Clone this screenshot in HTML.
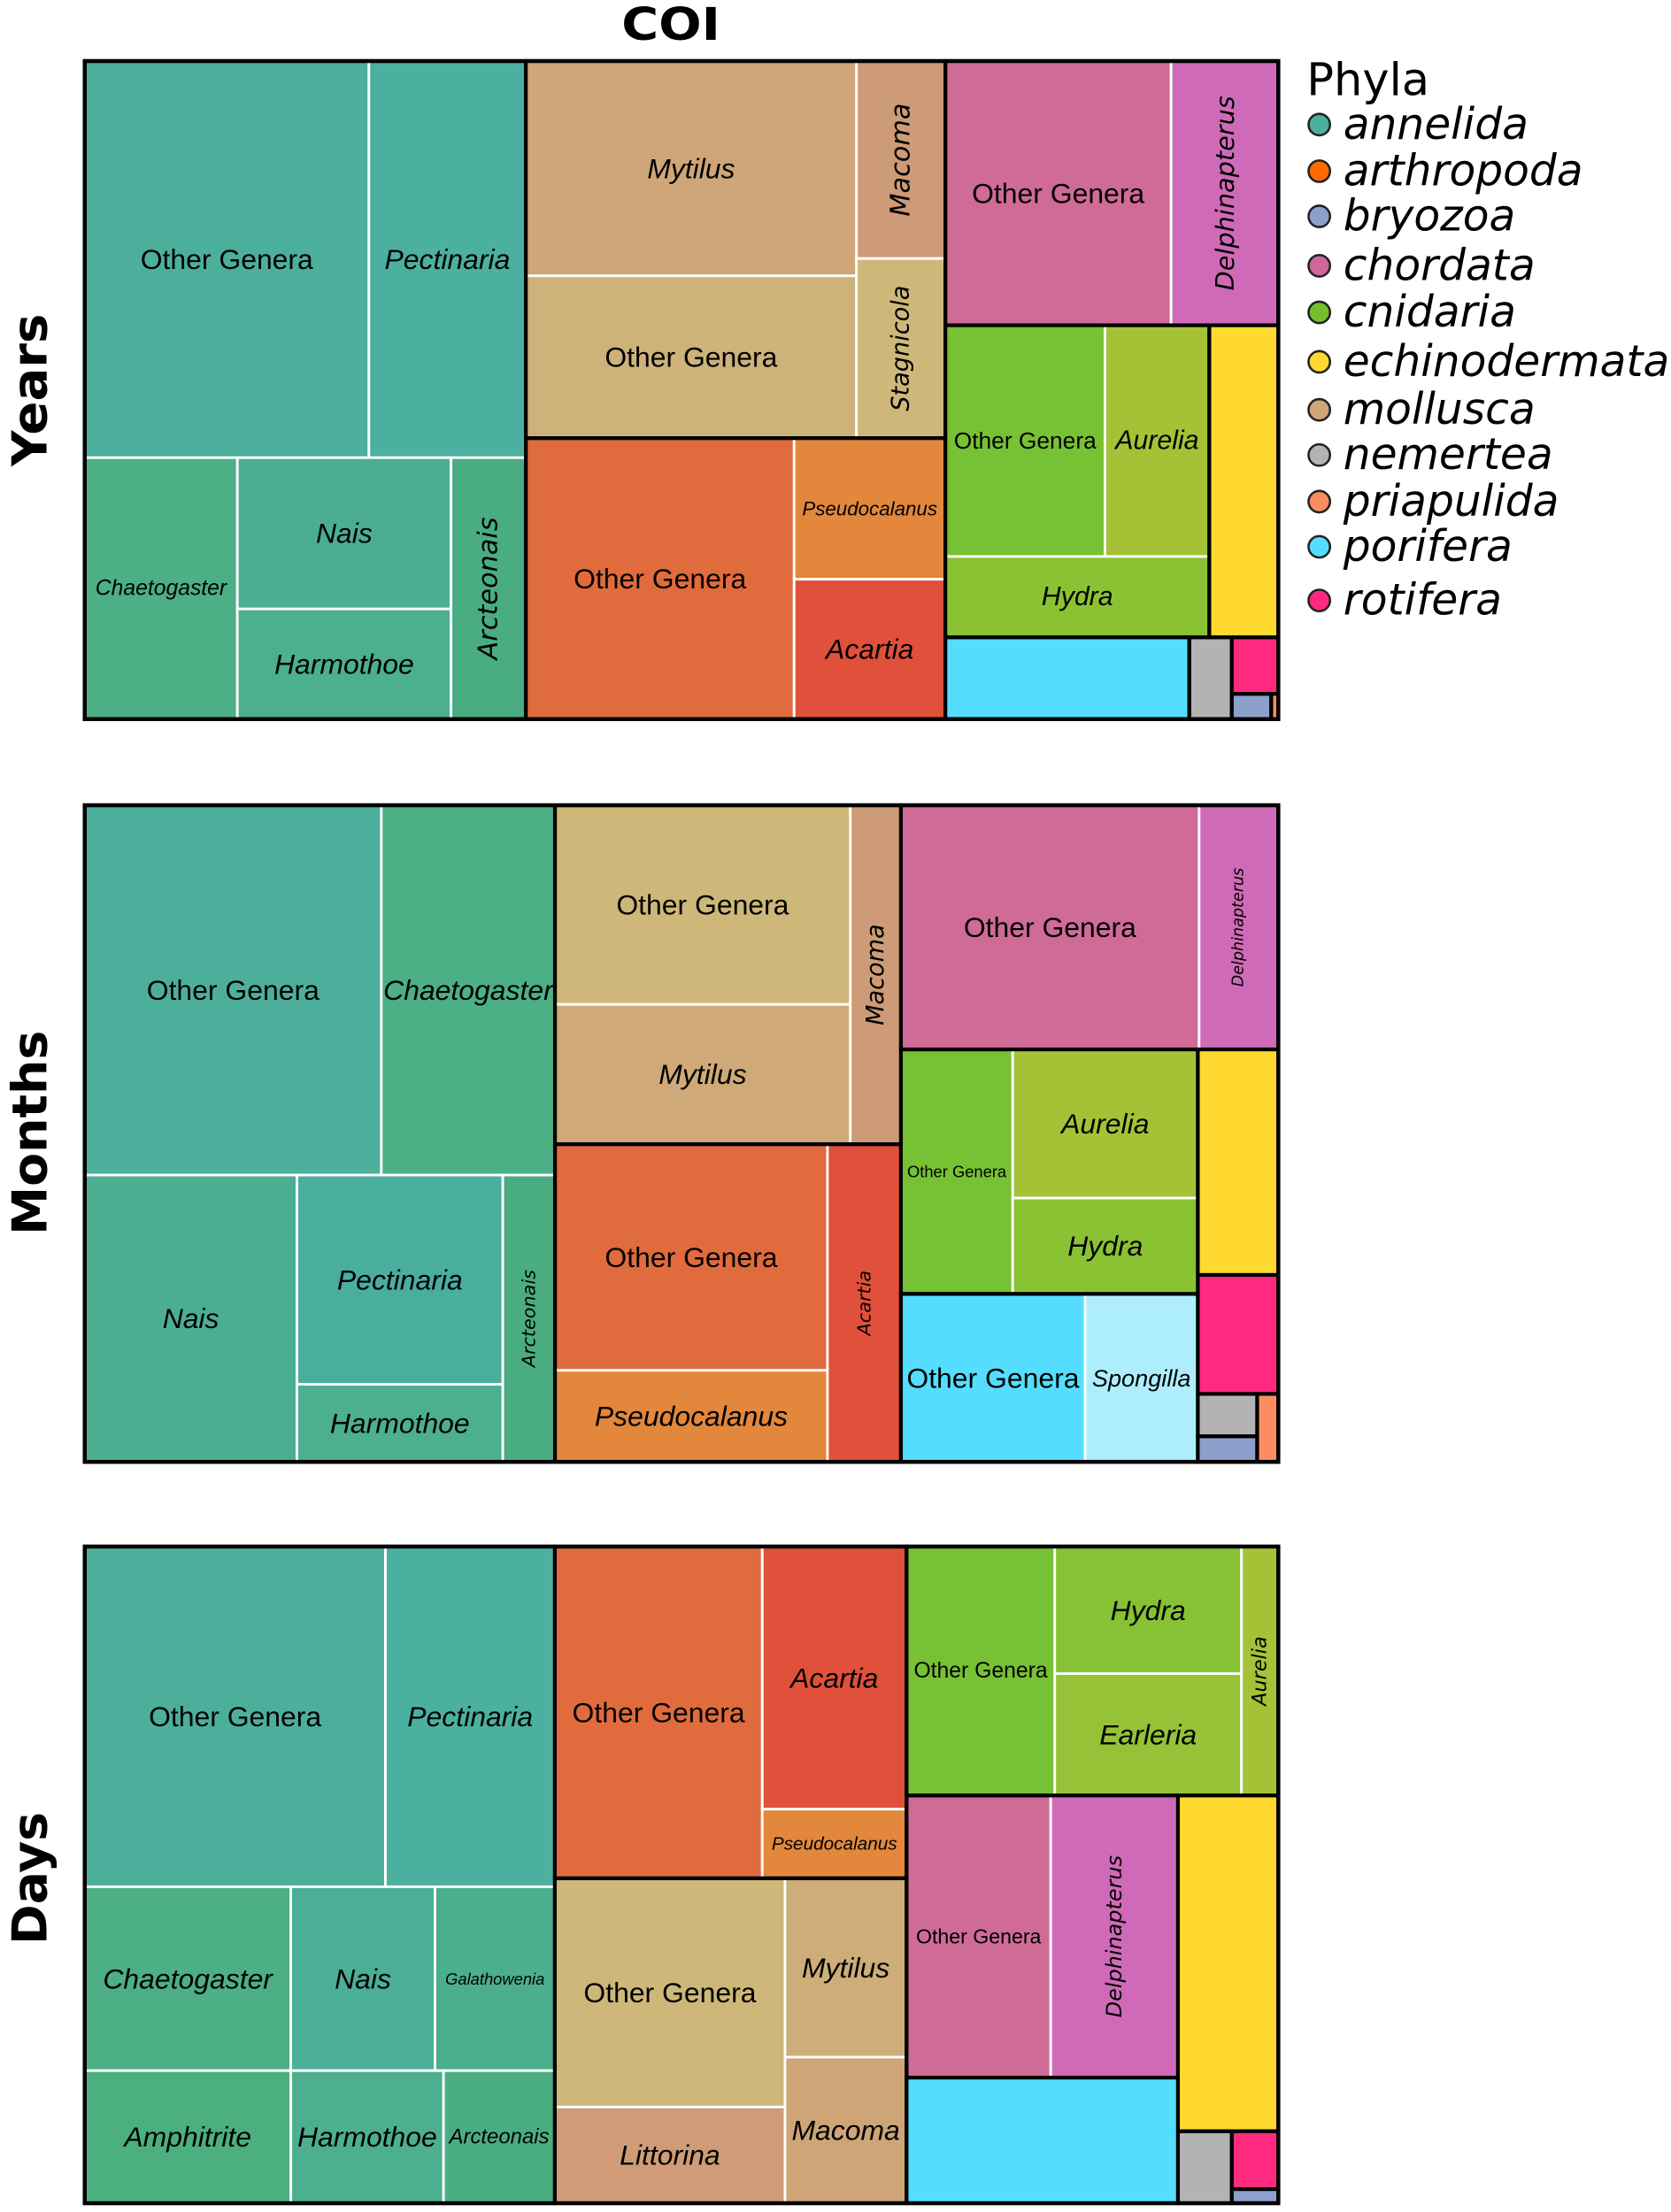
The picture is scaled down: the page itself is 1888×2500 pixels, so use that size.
<!DOCTYPE html>
<html><head><meta charset="utf-8">
<style>
html,body{margin:0;padding:0;background:#fff;}
svg{display:block;}
</style></head>
<body>
<svg id="chart" xmlns="http://www.w3.org/2000/svg" width="1888" height="2500" viewBox="0 0 1183 1566">
<text x="475" y="28" text-anchor="middle" font-family="DejaVu Sans, sans-serif" font-weight="bold" font-size="32" textLength="70" lengthAdjust="spacingAndGlyphs">COI</text>
<g id="panels"></g>
<g id="legend"></g>
</svg>
<script>
const NS="http://www.w3.org/2000/svg";
// phylum categories & colours
const phyla=["annelida","arthropoda","bryozoa","chordata","cnidaria","echinodermata","mollusca","nemertea","priapulida","porifera","rotifera"];
const phylaColors=["#4db09a","#fe6a00","#8da0cb","#d0669a","#73c02a","#ffd92f","#d0a57a","#b3b3b3","#fc8d62","#55ddff","#ff2a7f"];
const panelNames=["Years","Months","Days"];

// leaf: [label, value, colour, fontSize, rotated]; node: {d:'h'|'v', p:phylum?, c:[...]}
function L(n,v,col,fs,rot){return {n:n,v:v,col:col,fs:fs,rot:!!rot};}
function N(d,c,p){return {d:d,c:c,p:p};}

// value (relative area) arrays per panel
const yearsValues={og_ann:565,pect:312,chaet:200,nais:162,harm:118,arct:98,myt:356,og_mol:269,mac:88,stag:80,og_art:378,pseudo:107,acar:106,og_cho:299,delph:142,og_cni:185,aur:121,hyd:107,echi:108,por:100,nem:17.4,rot:13.2,bry:5,pri:0.9};
const monthsValues={og_ann:550,chaet:322,nais:305,pect:216,harm:80,arct:75,og_mol:295,myt:207,mac:86,og_art:309,pseudo:125,acar:117,og_cho:365,delph:97,og_cni:137,aur:138,hyd:89,og_por:155,spon:95,echi:91,rot:48,nem:12.6,bry:7.6,pri:7.2};
const daysValues={og_ann:513,pect:289,chaet:190,nais:133,gala:110.5,amph:137,harm:101.5,arct:74,og_art:345,acar:190,pseudo:50,og_mol:264,litt:111,myt:109,mac:89,og_cni:185,hyd:119,earl:114,aur:46,og_cho:204,delph:180,por:171,echi:169,nem:19.4,rot:13.5,bry:3.3};

const Y=yearsValues, M=monthsValues, D=daysValues;
const trees=[
 N('h',[
  N('v',[N('h',[L("Other Genera",Y.og_ann,"#4caf9b",20),L("Pectinaria",Y.pect,"#4bb0a0",20)]),
         N('h',[L("Chaetogaster",Y.chaet,"#4caf85",15.5),N('v',[L("Nais",Y.nais,"#4bae91",20),L("Harmothoe",Y.harm,"#4caf8f",20)]),L("Arcteonais",Y.arct,"#4aad82",19,1)])],'annelida'),
  N('v',[
    N('h',[N('v',[L("Mytilus",Y.myt,"#cfa678",20),L("Other Genera",Y.og_mol,"#cdb279",20)]),N('v',[L("Macoma",Y.mac,"#cd9b77",19,1),L("Stagnicola",Y.stag,"#cdb87a",17,1)])],'mollusca'),
    N('h',[L("Other Genera",Y.og_art,"#e06b3c",20),N('v',[L("Pseudocalanus",Y.pseudo,"#e2873c",14),L("Acartia",Y.acar,"#e0503b",20)])],'arthropoda')]),
  N('v',[
    N('h',[L("Other Genera",Y.og_cho,"#cf6b96",20),L("Delphinapterus",Y.delph,"#cf6ab8",18,1)],'chordata'),
    N('h',[N('v',[N('h',[L("Other Genera",Y.og_cni,"#77c134",16.5),L("Aurelia",Y.aur,"#a5c236",19)]),L("Hydra",Y.hyd,"#8bc234",19)],'cnidaria'),
           N('h',[L(null,Y.echi,"#ffd92f")],'echinodermata')]),
    N('h',[N('h',[L(null,Y.por,"#55ddff")],'porifera'),N('h',[L(null,Y.nem,"#b3b3b3")],'nemertea'),
           N('v',[N('h',[L(null,Y.rot,"#ff2a7f")],'rotifera'),N('h',[N('h',[L(null,Y.bry,"#8da0cb")],'bryozoa'),N('h',[L(null,Y.pri,"#fc8d62")],'priapulida')])])])])
 ]),
 N('h',[
  N('v',[N('h',[L("Other Genera",M.og_ann,"#4caf9b",20),L("Chaetogaster",M.chaet,"#4caf85",20)]),
         N('h',[L("Nais",M.nais,"#4bae91",20),N('v',[L("Pectinaria",M.pect,"#4aae9f",20),L("Harmothoe",M.harm,"#4caf8f",20)]),L("Arcteonais",M.arct,"#4aad82",13,1)])],'annelida'),
  N('v',[
    N('h',[N('v',[L("Other Genera",M.og_mol,"#cdb879",20),L("Mytilus",M.myt,"#cfa978",20)]),L("Macoma",M.mac,"#cd9b77",17,1)],'mollusca'),
    N('h',[N('v',[L("Other Genera",M.og_art,"#e06b3c",20),L("Pseudocalanus",M.pseudo,"#e2873c",20)]),L("Acartia",M.acar,"#e0503b",13,1)],'arthropoda')]),
  N('v',[
    N('h',[L("Other Genera",M.og_cho,"#cf6b96",20),L("Delphinapterus",M.delph,"#cf6ab8",11,1)],'chordata'),
    N('h',[
      N('v',[N('h',[L("Other Genera",M.og_cni,"#77c134",11.5),N('v',[L("Aurelia",M.aur,"#a5c236",20),L("Hydra",M.hyd,"#8bc234",20)])],'cnidaria'),
             N('h',[L("Other Genera",M.og_por,"#55ddff",20),L("Spongilla",M.spon,"#aeeefc",17)],'porifera')]),
      N('v',[N('h',[L(null,M.echi,"#ffd92f")],'echinodermata'),N('h',[L(null,M.rot,"#ff2a7f")],'rotifera'),
             N('h',[N('v',[N('h',[L(null,M.nem,"#b3b3b3")],'nemertea'),N('h',[L(null,M.bry,"#8da0cb")],'bryozoa')]),N('h',[L(null,M.pri,"#fc8d62")],'priapulida')])])])])
 ]),
 N('h',[
  N('v',[N('h',[L("Other Genera",D.og_ann,"#4caf9b",20),L("Pectinaria",D.pect,"#4bb0a0",20)]),
         N('h',[L("Chaetogaster",D.chaet,"#4caf85",20),L("Nais",D.nais,"#4bae97",20),L("Galathowenia",D.gala,"#4bae8c",11.5)]),
         N('h',[L("Amphitrite",D.amph,"#4caf7f",20),L("Harmothoe",D.harm,"#4caf8f",20),L("Arcteonais",D.arct,"#4aad82",15)])],'annelida'),
  N('v',[
    N('h',[L("Other Genera",D.og_art,"#e06b3c",20),N('v',[L("Acartia",D.acar,"#e0503b",20),L("Pseudocalanus",D.pseudo,"#e2873c",13)])],'arthropoda'),
    N('h',[N('v',[L("Other Genera",D.og_mol,"#cdb879",20),L("Littorina",D.litt,"#cf9c77",20)]),N('v',[L("Mytilus",D.myt,"#cdad78",20),L("Macoma",D.mac,"#cda577",20)])],'mollusca')]),
  N('v',[
    N('h',[L("Other Genera",D.og_cni,"#77c134",15.5),N('v',[L("Hydra",D.hyd,"#87c234",20),L("Earleria",D.earl,"#95c236",20)]),L("Aurelia",D.aur,"#a5c236",14,1)],'cnidaria'),
    N('h',[
      N('v',[N('h',[L("Other Genera",D.og_cho,"#cf6b96",14.5),L("Delphinapterus",D.delph,"#cf6ab8",15,1)],'chordata'),
             N('h',[L(null,D.por,"#55ddff")],'porifera')]),
      N('v',[N('h',[L(null,D.echi,"#ffd92f")],'echinodermata'),
             N('h',[N('h',[L(null,D.nem,"#b3b3b3")],'nemertea'),N('v',[N('h',[L(null,D.rot,"#ff2a7f")],'rotifera'),N('h',[L(null,D.bry,"#8da0cb")],'bryozoa')])])])])])
 ])
];

const panelBoxes=[[60,43,905,509],[60,570,905,1035],[60,1095,905,1560]];
const rowLabelY=[276,802,1330], rowLabelLen=[108,145,94];

function sum(n){return n.c?n.c.reduce((a,b)=>a+sum(b),0):n.v;}
const leaves=[], groups=[];
function layout(n,x0,y0,x1,y1){
  if(!n.c){leaves.push({n:n,x0,y0,x1,y1});return;}
  if(n.p) groups.push({p:n.p,x0,y0,x1,y1});
  const t=sum(n); let pos=(n.d==='h')?x0:y0;
  n.c.forEach(ch=>{
    const s=sum(ch)/t;
    if(n.d==='h'){const w=(x1-x0)*s; layout(ch,pos,y0,pos+w,y1); pos+=w;}
    else{const h=(y1-y0)*s; layout(ch,x0,pos,x1,pos+h); pos+=h;}
  });
}
const root=document.getElementById('panels');
function mk(tag,attrs,parent){const e=document.createElementNS(NS,tag);for(const k in attrs)e.setAttribute(k,attrs[k]);parent.appendChild(e);return e;}

trees.forEach((tree,i)=>{
  leaves.length=0; groups.length=0;
  const b=panelBoxes[i];
  layout(tree,b[0],b[1],b[2],b[3]);
  const g=mk('g',{},root);
  
  
  leaves.forEach(l=>{
    const r=mk('rect',{x:l.x0,y:l.y0,width:l.x1-l.x0,height:l.y1-l.y0,fill:l.n.col,stroke:'#fff','stroke-width':1.8},g);
    
    
    if(l.n.n){
      const cx=(l.x0+l.x1)/2, cy=(l.y0+l.y1)/2;
      const og=l.n.n==="Other Genera";
      const t=mk('text',{'text-anchor':'middle','dominant-baseline':'central','font-size':l.n.fs,fill:'#000'},g);
      if(l.n.rot){
        t.setAttribute('transform','translate('+cx+','+cy+') rotate(-90)');
        t.setAttribute('font-family','DejaVu Sans, sans-serif');
        t.setAttribute('font-style','oblique');
      }else{
        t.setAttribute('x',cx);t.setAttribute('y',cy);
        t.setAttribute('font-family','Liberation Sans, Arial, sans-serif');
        if(!og)t.setAttribute('font-style','italic');
      }
      
      
      t.textContent=l.n.n;
    }
  });
  groups.forEach(q=>{
    const r=mk('rect',{x:q.x0,y:q.y0,width:q.x1-q.x0,height:q.y1-q.y0,fill:'none',stroke:'#000','stroke-width':2.6},g);
    
    
  });
  const o=mk('rect',{x:b[0],y:b[1],width:b[2]-b[0],height:b[3]-b[1],fill:'none',stroke:'#000','stroke-width':2.8},g);
  
  
  const lab=mk('text',{transform:'translate(33,'+rowLabelY[i]+') rotate(-90)','text-anchor':'middle','font-family':'DejaVu Sans, sans-serif','font-weight':'bold','font-size':34,textLength:rowLabelLen[i],lengthAdjust:'spacingAndGlyphs'},root);
  
  
  lab.textContent=panelNames[i];
});

// legend
const lg=document.getElementById('legend');
const lt=mk('text',{x:925,y:67,'font-family':'DejaVu Sans, sans-serif','font-size':32},lg);


lt.textContent="Phyla";
const legendY=[88,121,153,188,221,256,290,322,355,387,425];
phyla.forEach((p,i)=>{
  const c=mk('circle',{cx:934,cy:legendY[i],r:7.6,fill:phylaColors[i],stroke:'#222','stroke-width':1.6},lg);
  
  
  const t=mk('text',{x:951,y:legendY[i]+10,'font-family':'DejaVu Sans, sans-serif','font-style':'oblique','font-size':30.5},lg);
  
  
  t.textContent=p;
});
</script>
</body></html>
